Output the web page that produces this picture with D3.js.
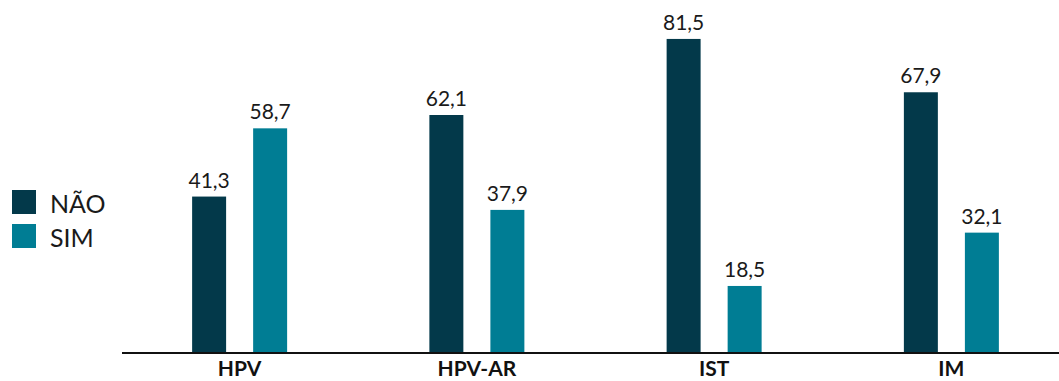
<!doctype html>
<html lang="pt">
<head>
  <meta charset="utf-8">
  <title>HPV / HPV-AR / IST / IM</title>
  <style>
    body { margin: 0; background: #fff; }
    svg { display: block; font-family: Lato, "Open Sans", sans-serif; }
    .val { font-size: 21px; font-weight: 400; fill: #1a1a1a; text-anchor: middle; }
    .cat { font-size: 21px; font-weight: 700; fill: #111; text-anchor: middle; }
    .leg { font-size: 25px; font-weight: 400; fill: #1a1a1a; }
  </style>
</head>
<body>
<svg width="1059" height="381"></svg>
<script src="https://d3js.org/d3.v7.min.js"></script>
<script>
  var categories = ["HPV", "HPV-AR", "IST", "IM"];
  var series = ["NÃO", "SIM"];
  var naoValues = [41.3, 62.1, 81.5, 67.9];
  var simValues = [58.7, 37.9, 18.5, 32.1];
  var colors = ["#03394a", "#007d94"];

  var svg = d3.select("svg"),
    width = +svg.attr("width"),
    height = +svg.attr("height");

  var baseline = 352;

  var x = d3.scaleBand().domain(categories).range([121, 1070]);
  var xInner = d3.scaleBand().domain(series).range([-47.5, 47.5]).paddingInner(0.443);
  // scale does not start exactly at zero in the original
  var y = d3.scaleLinear().domain([0, 100]).range([358.5, -33.6]);
  var color = d3.scaleOrdinal().domain(series).range(colors);

  var rows = categories.map(function (c, i) {
    return { cat: c, values: [naoValues[i], simValues[i]] };
  });

  var group = svg.append("g")
    .selectAll("g")
    .data(rows)
    .enter().append("g")
    .attr("transform", (d) => `translate(${x(d.cat) + x.bandwidth() / 2},0)`);

  var bar = group.selectAll("g")
    .data((d) => d.values.map((v, j) => ({ s: series[j], v: v })))
    .enter().append("g");

  bar.append("rect")
    .attr("x", (d) => xInner(d.s))
    .attr("width", xInner.bandwidth())
    .attr("y", (d) => y(d.v))
    .attr("height", (d) => baseline - y(d.v))
    .attr("fill", (d) => color(d.s));

  bar.append("text")
    .attr("class", "val")
    .attr("x", (d) => xInner(d.s) + xInner.bandwidth() / 2)
    .attr("y", (d) => y(d.v) - 9)
    .text((d) => d3.format(".1f")(d.v).replace(".", ","));

  // axis line + category labels
  svg.append("line")
    .attr("x1", 122).attr("x2", width)
    .attr("y1", baseline + 1).attr("y2", baseline + 1)
    .attr("stroke", "#111").attr("stroke-width", 2);

  svg.append("g")
    .selectAll("text")
    .data(categories)
    .enter().append("text")
    .attr("class", "cat")
    .attr("x", (d) => x(d) + x.bandwidth() / 2)
    .attr("y", 376)
    .text((d) => d);

  // legend
  var legend = svg.append("g")
    .selectAll("g")
    .data(series)
    .enter().append("g")
    .attr("transform", (d, i) => `translate(12,${190 + i * 34})`);

  legend.append("rect")
    .attr("width", 24).attr("height", 24)
    .attr("fill", (d) => color(d));

  legend.append("text")
    .attr("class", "leg")
    .attr("x", 38)
    .attr("y", 23)
    .text((d) => d);
</script>
</body>
</html>
